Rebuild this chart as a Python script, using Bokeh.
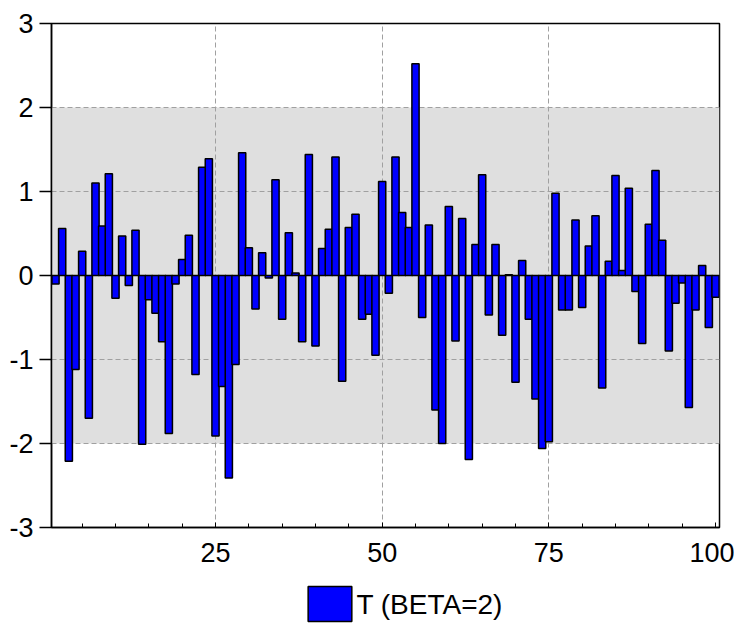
from bokeh.plotting import figure
from bokeh.layouts import column
from bokeh.models import (Range1d, FixedTicker, BoxAnnotation, Span, Grid,
                          CustomJSTickFormatter)
from bokeh.core.properties import value
from bokeh.embed import file_html
from bokeh.resources import INLINE

obs = list(range(1, 101))
t_beta2 = [
    -0.10, 0.56, -2.21, -1.12, 0.29, -1.70, 1.10, 0.59, 1.21, -0.27,
    0.47, -0.12, 0.54, -2.01, -0.29, -0.45, -0.79, -1.88, -0.10, 0.19,
    0.48, -1.18, 1.29, 1.39, -1.91, -1.32, -2.41, -1.06, 1.46, 0.33,
    -0.40, 0.27, -0.03, 1.14, -0.52, 0.51, 0.03, -0.79, 1.44, -0.84,
    0.32, 0.55, 1.41, -1.26, 0.57, 0.73, -0.52, -0.46, -0.95, 1.12,
    -0.21, 1.41, 0.75, 0.57, 2.52, -0.50, 0.60, -1.60, -2.00, 0.82,
    -0.78, 0.68, -2.19, 0.37, 1.20, -0.47, 0.37, -0.71, 0.01, -1.27,
    0.18, -0.52, -1.47, -2.06, -1.98, 0.98, -0.41, -0.41, 0.66, -0.38,
    0.35, 0.71, -1.34, 0.17, 1.19, 0.06, 1.04, -0.19, -0.81, 0.61,
    1.25, 0.42, -0.90, -0.33, -0.09, -1.57, -0.41, 0.12, -0.62, -0.26,
]
x_ticks = [25, 50, 75, 100]
x_minor = list(range(5, 101, 5))
y_ticks = [-3, -2, -1, 0, 1, 2, 3]
series_label = "T (BETA=2)"

FONT = "Liberation Sans"
BLUE = "#0000FF"

p = figure(width=734, height=583, output_backend="svg", toolbar_location=None,
           x_range=Range1d(0.4, 100.6), y_range=Range1d(-3, 3),
           min_border_left=51, min_border_right=15, min_border_top=23,
           min_border_bottom=56)
p.background_fill_color = "white"
p.border_fill_color = "white"
p.outline_line_color = "black"
p.outline_line_width = 1.5
p.grid.visible = False

band = BoxAnnotation(bottom=-2, top=2, fill_color="#DFDFDF", fill_alpha=1.0,
                     line_color=None, level="image")
p.add_layout(band)

gx = Grid(dimension=0, ticker=FixedTicker(ticks=[25, 50, 75]),
          grid_line_color="#A0A0A0", grid_line_dash="5 3", grid_line_width=1)
gy = Grid(dimension=1, ticker=FixedTicker(ticks=[-2, -1, 1, 2]),
          grid_line_color="#A0A0A0", grid_line_dash="5 3", grid_line_width=1)
p.add_layout(gx)
p.add_layout(gy)

r = p.vbar(x=obs, top=t_beta2, bottom=0, width=1.08, fill_color=BLUE,
           line_color="black", line_width=1.5)

p.add_layout(Span(location=0, dimension="width", line_color="black", line_width=1))

fmt = CustomJSTickFormatter(code="return tick.toFixed(0)")

xa = p.xaxis[0]
xa.ticker = FixedTicker(ticks=x_ticks, minor_ticks=x_minor)
xa.formatter = fmt
xa.major_tick_in = 5
xa.major_tick_out = 0
xa.minor_tick_in = 4
xa.minor_tick_out = 0
xa.major_label_standoff = 15
xa.axis_line_color = "black"
xa.axis_line_width = 1.5
xa.major_tick_line_color = "black"
xa.minor_tick_line_color = "black"
xa.major_label_text_font = FONT
xa.major_label_text_font_size = "27px"
xa.major_label_text_color = "black"

ya = p.yaxis[0]
ya.ticker = FixedTicker(ticks=y_ticks)
ya.formatter = fmt
ya.major_tick_in = 0
ya.major_tick_out = 12
ya.minor_tick_line_color = None
ya.major_label_standoff = 6
ya.axis_line_color = "black"
ya.axis_line_width = 1.5
ya.major_tick_line_color = "black"
ya.major_tick_line_width = 1.5
ya.major_label_text_font = FONT
ya.major_label_text_font_size = "27px"
ya.major_label_text_color = "black"

# legend strip (pixel coordinates)
lf = figure(width=734, height=40, output_backend="svg", toolbar_location=None,
            x_range=Range1d(0, 734), y_range=Range1d(0, 40),
            x_axis_type=None, y_axis_type=None,
            min_border_left=0, min_border_right=0, min_border_top=0,
            min_border_bottom=0)
lf.outline_line_color = None
lf.grid.visible = False
lf.background_fill_color = "white"
lf.border_fill_color = "white"
lf.quad(left=[282], right=[330], bottom=[2], top=[37], fill_color=BLUE,
        line_color="black", line_width=1.5)
lf.text(x=[335], y=[19], text=[series_label], text_font=value(FONT),
        text_font_size="28px", text_baseline="middle", text_align="left",
        text_color="black")

layout = column(p, lf, spacing=0)
open("out.html", "w").write(file_html(layout, INLINE))
